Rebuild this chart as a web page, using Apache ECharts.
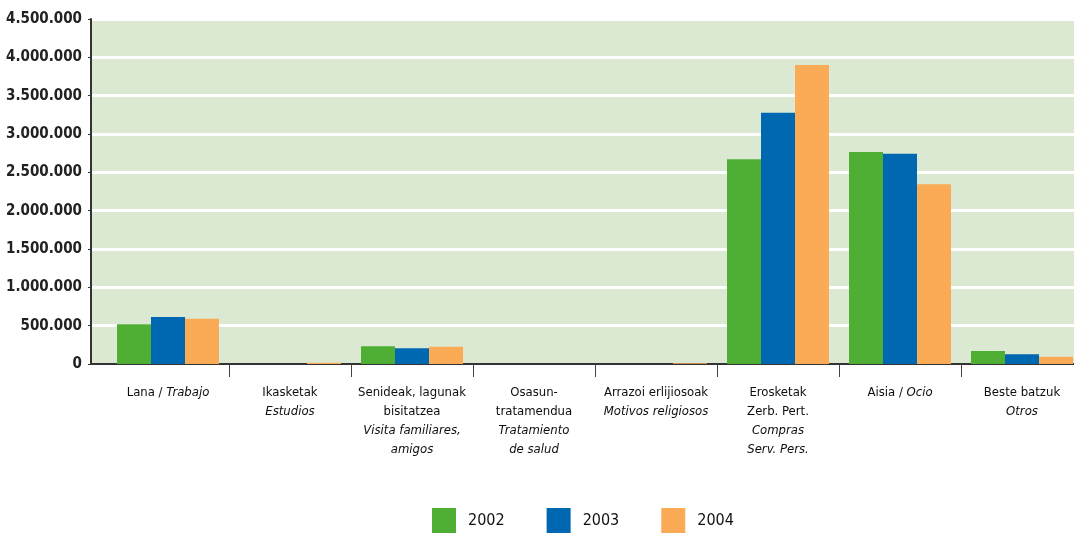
<!DOCTYPE html>
<html>
<head>
<meta charset="utf-8">
<script src="https://cdn.jsdelivr.net/npm/echarts@6/dist/echarts.min.js"></script>
<style>
  html, body { margin: 0; padding: 0; background: #fff; }
  #chart { width: 1074px; height: 533px; }
</style>
</head>
<body>
<div id="chart"></div>
<script>
// categories (basque / {i|spanish in italics})
var categories = [
  "Lana / {i|Trabajo}",
  "Ikasketak\n{i|Estudios}",
  "Senideak, lagunak\nbisitatzea\n{i|Visita familiares,}\n{i|amigos}",
  "Osasun-\ntratamendua\n{i|Tratamiento}\n{i|de salud}",
  "Arrazoi erlijiosoak\n{i|Motivos religiosos}",
  "Erosketak\nZerb. Pert.\n{i|Compras}\n{i|Serv. Pers.}",
  "Aisia / {i|Ocio}",
  "Beste batzuk\n{i|Otros}"
];
var years = ["2002", "2003", "2004"];
var data2002 = [520000, 0, 230000, 0, 0, 2670000, 2765000, 170000];
var data2003 = [613000, 0, 205000, 0, 0, 3278000, 2743000, 126000];
var data2004 = [590000, 15000, 225000, 0, 10000, 3900000, 2344000, 95000];
var yMin = 0, yMax = 4500000, yStep = 500000;

var colors = ["#4fae34", "#0067b1", "#fbaa55"];
var font = "'Liberation Sans Narrow', 'DejaVu Sans Condensed', sans-serif";

function fmt(v) {
  return String(v).replace(/\B(?=(\d{3})+(?!\d))/g, ".");
}

var myChart = echarts.init(document.getElementById("chart"));

var option = {
  animation: false,
  color: colors,
  legend: {
    data: years,
    left: 432,
    top: 508,
    padding: 0,
    itemWidth: 24,
    itemHeight: 26,
    itemGap: 42,
    icon: "rect",
    textStyle: {
      fontFamily: font,
      fontSize: 16,
      color: "#111",
      padding: [0, 0, 0, 7]
    }
  },
  grid: [
    {
      // background + value axis
      left: 91, top: 19, right: 0, bottom: 169,
      outerBoundsMode: "none",
      show: true,
      backgroundColor: "#dbe9d3",
      borderWidth: 0
    },
    {
      // bars
      left: 107, top: 19, right: -9, bottom: 169,
      outerBoundsMode: "none"
    }
  ],
  xAxis: [
    {
      gridIndex: 0,
      type: "value",
      min: 0, max: 1,
      axisLine: { show: true, onZero: false, lineStyle: { color: "#333", width: 2 } },
      axisTick: { show: false },
      axisLabel: { show: false },
      splitLine: { show: false }
    },
    {
      gridIndex: 1,
      type: "category",
      data: categories,
      axisLine: { show: false },
      axisTick: {
        show: true,
        length: 13,
        interval: function (index) { return index > 0; },
        lineStyle: { color: "#444", width: 1 }
      },
      axisLabel: {
        interval: 0,
        margin: 19,
        fontFamily: font,
        fontSize: 13,
        lineHeight: 19,
        color: "#0d0d0d",
        rich: {
          i: { fontFamily: font, fontSize: 13, fontStyle: "italic", lineHeight: 19, color: "#0d0d0d" }
        }
      }
    }
  ],
  yAxis: [
    {
      gridIndex: 0,
      type: "value",
      min: yMin, max: yMax, interval: yStep,
      axisLine: { show: true, lineStyle: { color: "#333", width: 2 } },
      axisTick: { show: true, length: 3, lineStyle: { color: "#333" } },
      axisLabel: {
        margin: 9,
        fontFamily: font,
        fontSize: 15,
        fontWeight: "bold",
        color: "#222",
        formatter: fmt
      },
      splitLine: { show: true, lineStyle: { color: "#ffffff", width: 3 } }
    },
    {
      gridIndex: 1,
      type: "value",
      min: yMin, max: yMax, interval: yStep,
      show: false,
      splitLine: { show: false }
    }
  ],
  series: [
    { name: years[0], type: "bar", xAxisIndex: 1, yAxisIndex: 1, barWidth: 34, barGap: "0%", data: data2002 },
    { name: years[1], type: "bar", xAxisIndex: 1, yAxisIndex: 1, barWidth: 34, barGap: "0%", data: data2003 },
    { name: years[2], type: "bar", xAxisIndex: 1, yAxisIndex: 1, barWidth: 34, barGap: "0%", data: data2004 }
  ]
};

myChart.setOption(option);
</script>
</body>
</html>
